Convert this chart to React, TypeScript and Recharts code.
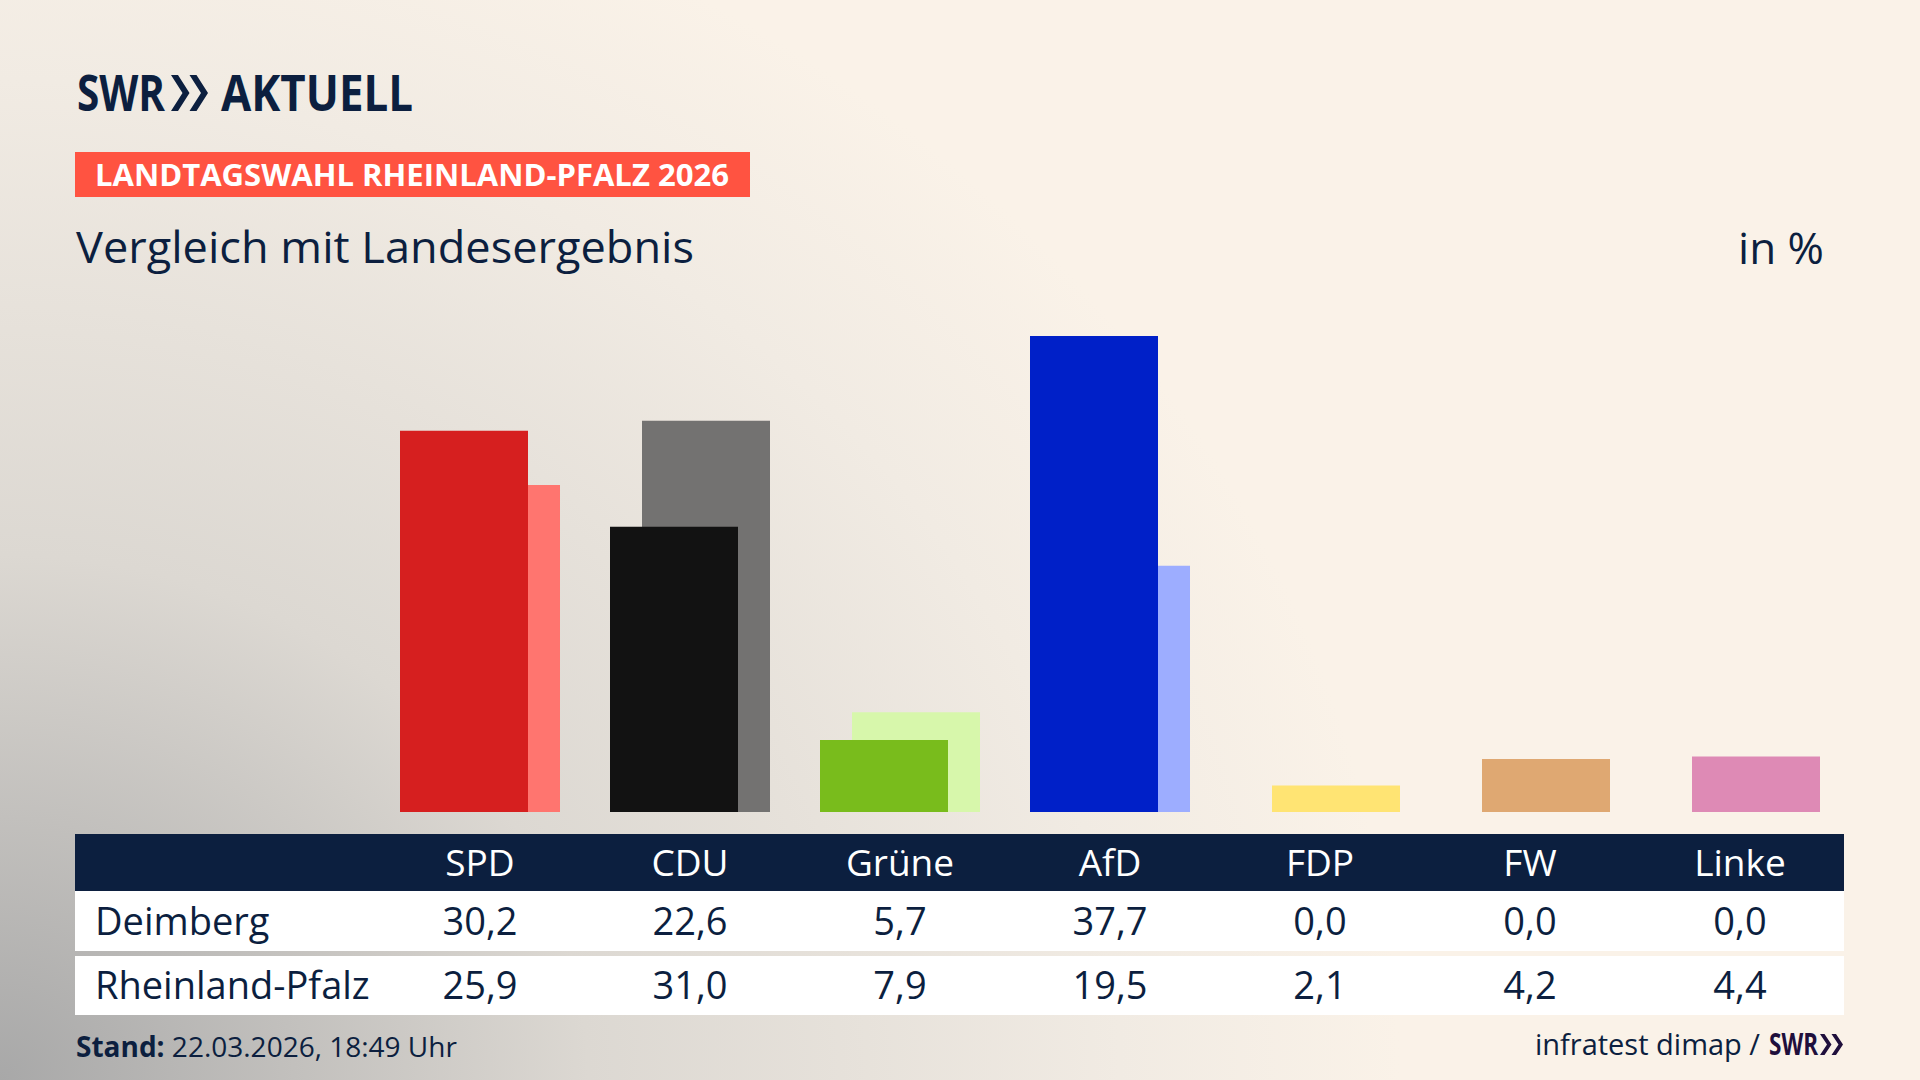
import { BarChart, Bar, XAxis, YAxis, Cell } from 'recharts';

const parties = ['SPD', 'CDU', 'Grüne', 'AfD', 'FDP', 'FW', 'Linke'];
const deimberg = [30.2, 22.6, 5.7, 37.7, 0.0, 0.0, 0.0];
const landes = [25.9, 31.0, 7.9, 19.5, 2.1, 4.2, 4.4];
const deimbergColors = ['#d61f1f', '#121212', '#79bc1c', '#0020c8', '#ffd600', '#c87a2c', '#c01e7a'];
const landesColors = ['#ff756f', '#737271', '#d7f7ab', '#9dadff', '#ffe473', '#dfa872', '#de8ab5'];
const rowLabels = ['Deimberg', 'Rheinland-Pfalz'];

const data = parties.map((name, i) => ({ name, deimberg: deimberg[i], landes: landes[i] }));

const NAVY = '#0c1f3f';
const FONT = '"Open Sans", "Noto Sans", sans-serif';

const fmt = (v: number) => v.toFixed(1).replace('.', ',');

// chart geometry
const PLOT_LEFT = 375;
const PLOT_WIDTH = 1470;
const PLOT_TOP = 307;
const PLOT_HEIGHT = 505;
const colCenter = (i: number) => PLOT_LEFT + (PLOT_WIDTH / parties.length) * (i + 0.5);

function Chevrons({ x, top, h, w, t, fill }: { x: number, top: number, h: number, w: number, t: number, fill: string }) {
    const one = (x0: number) =>
        `${x0},${top} ${x0 + t},${top} ${x0 + w},${top + h / 2} ${x0 + t},${top + h} ${x0},${top + h} ${x0 + w - t},${top + h / 2}`;
    return (
        <g fill={fill}>
            <polygon points={one(x)} />
            <polygon points={one(x + w)} />
        </g>
    );
}

export default function App() {
    return (
        <div style={{
            position: 'absolute', left: 0, top: 0, width: 1920, height: 1080, overflow: 'hidden',
            background: 'radial-gradient(ellipse 1400px 1250px at 0% 100%, #a8a8a8 0%, #dcd8d2 42%, #f1ebe3 80%, #faf2e8 100%)',
            fontFamily: FONT
        }}>
            <svg width={1920} height={1080} style={{ position: 'absolute', left: 0, top: 0 }}>
                {/* logo */}
                <text x={77} y={111} fontSize={50} fontWeight={700} fill={NAVY} textLength={88} lengthAdjust="spacingAndGlyphs">SWR</text>
                <Chevrons x={171} top={75} h={36} w={18.5} t={7} fill={NAVY} />
                <text x={221} y={111} fontSize={50} fontWeight={700} fill={NAVY} textLength={192} lengthAdjust="spacingAndGlyphs">AKTUELL</text>

                {/* tag */}
                <rect x={75} y={152} width={675} height={45} fill="#ff5341" />
                <text x={95} y={186} fontSize={31} fontWeight={700} fill="#ffffff" textLength={634} lengthAdjust="spacingAndGlyphs">LANDTAGSWAHL RHEINLAND-PFALZ 2026</text>

                {/* title */}
                <text x={76} y={263} fontSize={44} fill={NAVY} textLength={618} lengthAdjust="spacingAndGlyphs">Vergleich mit Landesergebnis</text>
                <text x={1824} y={264} fontSize={44} fill={NAVY} textAnchor="end">in %</text>

                {/* table */}
                <rect x={75} y={834} width={1769} height={57} fill={NAVY} />
                <rect x={75} y={891} width={1769} height={60} fill="#ffffff" />
                <rect x={75} y={956} width={1769} height={59} fill="#ffffff" />
                {parties.map((p, i) => (
                    <text key={`h-${p}`} x={colCenter(i)} y={876} fontSize={37} fill="#ffffff" textAnchor="middle">{p}</text>
                ))}
                <text x={95} y={935} fontSize={38} fill={NAVY}>{rowLabels[0]}</text>
                <text x={95} y={999} fontSize={38} fill={NAVY}>{rowLabels[1]}</text>
                {deimberg.map((v, i) => (
                    <text key={`d-${i}`} x={colCenter(i)} y={935} fontSize={38} fill={NAVY} textAnchor="middle">{fmt(v)}</text>
                ))}
                {landes.map((v, i) => (
                    <text key={`l-${i}`} x={colCenter(i)} y={999} fontSize={38} fill={NAVY} textAnchor="middle">{fmt(v)}</text>
                ))}

                {/* footer */}
                <text x={76} y={1057} fontSize={28} fill={NAVY}>
                    <tspan fontWeight={700}>Stand:</tspan>
                    <tspan> 22.03.2026, 18:49 Uhr</tspan>
                </text>
                <text x={1760} y={1055} fontSize={29} fill={NAVY} textAnchor="end">infratest dimap /</text>
                <text x={1769} y={1055} fontSize={30} fontWeight={700} fill="#1f0f3c" textLength={49} lengthAdjust="spacingAndGlyphs">SWR</text>
                <Chevrons x={1820} top={1034} h={21} w={11.5} t={4.5} fill="#1f0f3c" />
            </svg>

            <div style={{ position: 'absolute', left: PLOT_LEFT, top: PLOT_TOP }}>
                <BarChart
                    width={PLOT_WIDTH}
                    height={PLOT_HEIGHT}
                    data={data}
                    margin={{ top: 0, right: 0, bottom: 0, left: 0 }}
                    barGap={-160}
                >
                    <XAxis dataKey="name" hide />
                    <YAxis hide domain={[0, 40]} />
                    <Bar dataKey="landes" barSize={128} isAnimationActive={false}>
                        {data.map((_, i) => <Cell key={`lc-${i}`} fill={landesColors[i]} />)}
                    </Bar>
                    <Bar dataKey="deimberg" barSize={128} isAnimationActive={false}>
                        {data.map((_, i) => <Cell key={`dc-${i}`} fill={deimbergColors[i]} />)}
                    </Bar>
                </BarChart>
            </div>
        </div>
    );
}
